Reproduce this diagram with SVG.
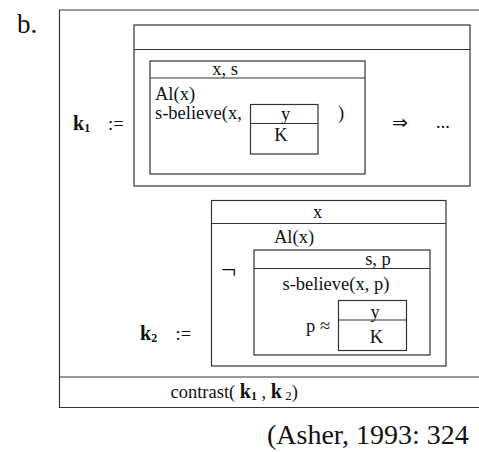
<svg xmlns="http://www.w3.org/2000/svg" width="479" height="452" viewBox="0 0 479 452">
<style>
.ln{fill:none;stroke:#333;stroke-width:1.2}
text{font-family:"Liberation Serif","Times New Roman",serif;font-size:18.5px;fill:#111}
.c{text-anchor:middle}
.k{font-weight:bold;font-size:20px}
.sub{font-weight:bold;font-size:12px}
</style>
<rect width="479" height="452" fill="#fff"/>
<text x="17" y="33" style="font-size:27px">b.</text>
<g id="outer">
  <path class="ln" d="M479,10 H59.5 V407.5 H479 M59.5,377 H479"/>
  <text x="170.5" y="398">contrast( <tspan class="k">k</tspan><tspan class="sub" dy="2">1</tspan><tspan dy="-2"> , </tspan><tspan class="k">k</tspan><tspan style="font-size:13px" dy="2"> 2</tspan><tspan dy="-2">)</tspan></text>
</g>
<g id="k1">
  <text x="73" y="130"><tspan class="k">k</tspan><tspan class="sub" dy="2">1</tspan></text>
  <text x="108" y="130">:=</text>
  <rect class="ln" x="134" y="25" width="336" height="161"/>
  <line class="ln" x1="134" y1="49.5" x2="470" y2="49.5"/>
  <text x="400" y="129" class="c">⇒</text>
  <text x="443" y="128" class="c">...</text>
</g>
<g id="k1-inner">
  <rect class="ln" x="150" y="61" width="215" height="113"/>
  <line class="ln" x1="150" y1="78" x2="365" y2="78"/>
  <text x="225" y="75" class="c">x, s</text>
  <text x="155" y="100">Al(x)</text>
  <text x="155" y="119">s-believe(x,</text>
  <text x="338" y="119">)</text>
</g>
<g id="k1-yK">
  <rect class="ln" x="250.5" y="104.5" width="67.5" height="49.5"/>
  <line class="ln" x1="250.5" y1="123.5" x2="318" y2="123.5"/>
  <text x="285.5" y="120" class="c">y</text>
  <text x="281" y="141" class="c">K</text>
</g>
<g id="k2">
  <text x="140" y="340"><tspan class="k">k</tspan><tspan class="sub" dy="2">2</tspan></text>
  <text x="175.5" y="340">:=</text>
  <rect class="ln" x="211.5" y="200.5" width="234.5" height="165.5"/>
  <line class="ln" x1="211.5" y1="223.5" x2="446" y2="223.5"/>
  <text x="317.5" y="218" class="c">x</text>
  <text x="274" y="243">Al(x)</text>
  <text x="221" y="279" style="font-size:27px">¬</text>
</g>
<g id="k2-inner">
  <rect class="ln" x="254" y="250" width="176" height="105"/>
  <line class="ln" x1="254" y1="268.5" x2="430" y2="268.5"/>
  <text x="378" y="265" class="c">s, p</text>
  <text x="282.5" y="290">s-believe(x, p)</text>
  <text x="306" y="332">p ≈</text>
</g>
<g id="k2-yK">
  <rect class="ln" x="338.5" y="300.5" width="68" height="50"/>
  <line class="ln" x1="338.5" y1="320" x2="406.5" y2="320"/>
  <text x="375" y="317.5" class="c">y</text>
  <text x="376.5" y="343" class="c">K</text>
</g>
<text x="267" y="444" style="font-size:28px">(Asher, 1993: 324</text>
</svg>
